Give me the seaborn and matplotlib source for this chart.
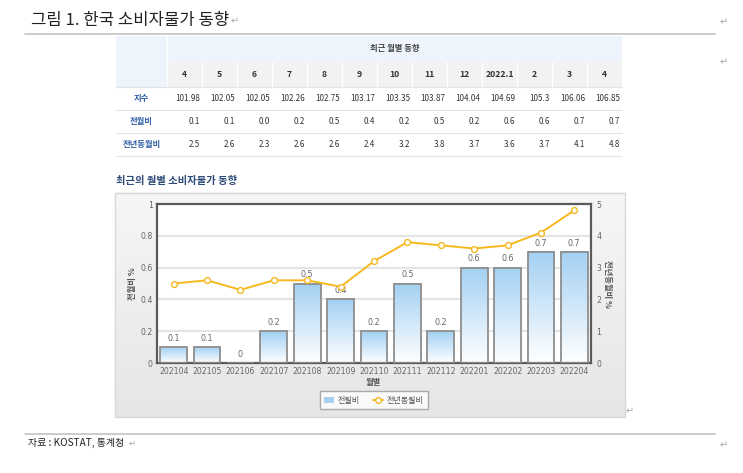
import numpy as np
import pandas as pd
import matplotlib
matplotlib.use("Agg")
import matplotlib.pyplot as plt
import seaborn as sns
from matplotlib.colors import LinearSegmentedColormap
from matplotlib.lines import Line2D
from matplotlib.patches import Patch, Rectangle

# data
table_months = ["4", "5", "6", "7", "8", "9", "10", "11", "12", "2022.1", "2", "3", "4"]
chart_months = ["202104", "202105", "202106", "202107", "202108", "202109", "202110",
                "202111", "202112", "202201", "202202", "202203", "202204"]
cpi_index = [101.98, 102.05, 102.05, 102.26, 102.75, 103.17, 103.35, 103.87, 104.04,
             104.69, 105.3, 106.06, 106.85]
mom_change = [0.1, 0.1, 0.0, 0.2, 0.5, 0.4, 0.2, 0.5, 0.2, 0.6, 0.6, 0.7, 0.7]
yoy_change = [2.5, 2.6, 2.3, 2.6, 2.6, 2.4, 3.2, 3.8, 3.7, 3.6, 3.7, 4.1, 4.8]
row_labels = ["지수", "전월비", "전년동월비"]
left_ticks = [0, 0.2, 0.4, 0.6, 0.8, 1]
right_ticks = [0, 1, 2, 3, 4, 5]

W, H = 743, 473
GOLD = "#f5b91e"
BAR_TOP = "#a3d0f3"
NAVY = "#2d4b78"
ROW_BLUE = "#2f5fa5"
MARK = "#a8a8a8"

sns.set_theme(style="white")
plt.rcParams["font.family"] = ["Noto Sans CJK KR", "DejaVu Sans"]


def box(x0, y0, x1, y1):
    # pixel box (top-left origin) -> figure fraction rect
    return [x0 / W, 1 - y1 / H, (x1 - x0) / W, (y1 - y0) / H]


fig = plt.figure(figsize=(W / 100, H / 100), dpi=100)

# background layer in pixel coordinates
bg = fig.add_axes([0, 0, 1, 1])
bg.axis("off")

# title and rules
bg.text(31, 20, "그림 1. 한국 소비자물가 동향", fontsize=12, color="#222222", va="center")
bg.text(231, 21, "↵", fontsize=7, color=MARK, va="center", family="DejaVu Sans")
bg.plot([25, 715], [34, 34], color="#c4c4c4", lw=1.2)
bg.plot([25, 715], [434, 434], color="#c4c4c4", lw=1.2)
bg.text(28, 443, "자료 : KOSTAT, 통계청", fontsize=7.2, color="#222222", va="center")
bg.text(129, 443, "↵", fontsize=6, color=MARK, va="center", family="DejaVu Sans")
for mx, my in [(720, 22), (720, 62), (720, 445), (626, 411)]:
    bg.text(mx, my, "↵", fontsize=7, color=MARK, va="center", family="DejaVu Sans")

# ---- table ----
tab_left, lab_right, col_w = 116, 167, 35
tab_right = lab_right + col_w * len(table_months)
rows_y = [36, 62, 87, 110, 133, 156]

bg.add_patch(Rectangle((tab_left, rows_y[0]), tab_right - tab_left, rows_y[1] - rows_y[0],
                       facecolor="#eef4fb", edgecolor="none"))
bg.add_patch(Rectangle((tab_left, rows_y[1]), lab_right - tab_left, rows_y[2] - rows_y[1],
                       facecolor="#eef4fb", edgecolor="none"))
bg.add_patch(Rectangle((lab_right, rows_y[1]), tab_right - lab_right, rows_y[2] - rows_y[1],
                       facecolor="#f2f2f2", edgecolor="none"))
bg.plot([lab_right, lab_right], [rows_y[0], rows_y[2]], color="white", lw=1)
for y in rows_y[2:]:
    bg.plot([tab_left, tab_right], [y, y], color="#e3e3e3", lw=0.8)
bg.text((lab_right + tab_right) / 2, (rows_y[0] + rows_y[1]) / 2, "최근 월별 동향",
        fontsize=6, weight="bold", color="#444444", ha="center", va="center")

body_rows = [
    [f"{v:g}" for v in cpi_index],
    [f"{v:.1f}" for v in mom_change],
    [f"{v:.1f}" for v in yoy_change],
]
for i, m in enumerate(table_months):
    cx0 = lab_right + i * col_w
    if i > 0:
        bg.plot([cx0, cx0], [rows_y[1], rows_y[2]], color="white", lw=1)
    bg.text(cx0 + col_w / 2, (rows_y[1] + rows_y[2]) / 2, m, fontsize=6.2, weight="bold",
            color="#333333", ha="center", va="center")
    for r, vals in enumerate(body_rows):
        bg.text(cx0 + col_w - 2, (rows_y[r + 2] + rows_y[r + 3]) / 2, vals[i], fontsize=5.8,
                color="#333333", ha="right", va="center")
for r, lab in enumerate(row_labels):
    bg.text((tab_left + lab_right) / 2, (rows_y[r + 2] + rows_y[r + 3]) / 2, lab, fontsize=6,
            weight="bold", color=ROW_BLUE, ha="center", va="center")

# ---- chart panel ----
bg.text(116, 181, "최근의 월별 소비자물가 동향", fontsize=7.4, weight="bold", color=NAVY, va="center")
panel_cmap = LinearSegmentedColormap.from_list("panel", ["#f6f6f6", "#e6e6e6"])
bg.imshow(np.linspace(0, 1, 128).reshape(-1, 1), extent=[115, 625, 417, 193], origin="upper",
          aspect="auto", cmap=panel_cmap, zorder=0)
bg.add_patch(Rectangle((115, 193), 510, 224, facecolor="none", edgecolor="#d8d8d8", lw=1,
                       zorder=1))
bg.set_xlim(0, W)
bg.set_ylim(H, 0)

df = pd.DataFrame({"월별": chart_months, "전월비": mom_change, "전년동월비": yoy_change})

ax = fig.add_axes(box(157, 204, 591, 363))
ax.set_facecolor("white")
sns.barplot(data=df, x="월별", y="전월비", ax=ax, color=BAR_TOP, width=0.8,
            edgecolor="#8e8e8e", linewidth=1.3, saturation=1)

# vertical white-to-blue gradient inside each bar
grad = np.linspace(0, 1, 256).reshape(-1, 1)
cmap = LinearSegmentedColormap.from_list("bar", ["#ffffff", BAR_TOP])
for bar in ax.patches:
    x0, w, h = bar.get_x(), bar.get_width(), bar.get_height()
    bar.set_facecolor("none")
    bar.set_zorder(3)
    if h > 0:
        ax.imshow(grad, extent=[x0, x0 + w, 0, h], origin="lower", aspect="auto",
                  cmap=cmap, zorder=2)
ax.set_aspect("auto")
ax.set_xlim(-0.5, len(chart_months) - 0.5)
ax.set_ylim(0, 1)
ax.bar_label(ax.containers[0], labels=[f"{v:g}" for v in mom_change], padding=3,
             fontsize=5.8, color="#666666", family="DejaVu Sans")

ax.set_yticks(left_ticks)
ax.set_yticklabels([f"{t:g}" for t in left_ticks])
ax.yaxis.grid(True, color="#e4e4e4", lw=1.5)
ax.set_axisbelow(True)
ax.tick_params(length=0, labelsize=5.6, labelcolor="#666666", pad=3)
for lbl in ax.get_xticklabels() + ax.get_yticklabels():
    lbl.set_fontfamily("DejaVu Sans")
ax.set_xlabel("")
ax.set_ylabel("")
for sp in ax.spines.values():
    sp.set_visible(True)
    sp.set_color("#5a5a5a")
    sp.set_linewidth(1.6)

ax2 = ax.twinx()
sns.lineplot(x=df.index, y=df["전년동월비"], ax=ax2, color=GOLD, linewidth=1.4, marker="o",
             markersize=4.2, markerfacecolor="white", markeredgecolor=GOLD, markeredgewidth=1)
ax2.set_ylim(0, 5)
ax2.set_yticks(right_ticks)
ax2.set_yticklabels([str(t) for t in right_ticks])
ax2.tick_params(length=0, labelsize=5.6, labelcolor="#666666", pad=4)
for lbl in ax2.get_yticklabels():
    lbl.set_fontfamily("DejaVu Sans")
ax2.set_ylabel("")
for sp in ax2.spines.values():
    sp.set_visible(False)

# axis titles
bg.text(132, 284, "전월비 %", rotation=90, fontsize=6, weight="bold", color="#555555",
        ha="center", va="center")
bg.text(608, 284, "전년동월비 %", rotation=-90, fontsize=6, weight="bold", color="#555555",
        ha="center", va="center")
bg.text(373, 382, "월별", fontsize=6, weight="bold", color="#555555", ha="center", va="center")

handles = [
    Patch(facecolor=BAR_TOP, edgecolor="none"),
    Line2D([0], [0], color=GOLD, lw=1.4, marker="o", markersize=4, markerfacecolor="white",
           markeredgecolor=GOLD),
]
fig.legend(handles, ["전월비", "전년동월비"], loc="center", bbox_to_anchor=(374 / W, 1 - 400 / H),
           ncol=2, fontsize=5.8, frameon=True, fancybox=False, edgecolor="#999999",
           labelcolor="#555555", handlelength=1.2, handleheight=0.8, columnspacing=1.6,
           borderpad=0.55, handletextpad=0.5)

fig.savefig("out.png", dpi=100)
